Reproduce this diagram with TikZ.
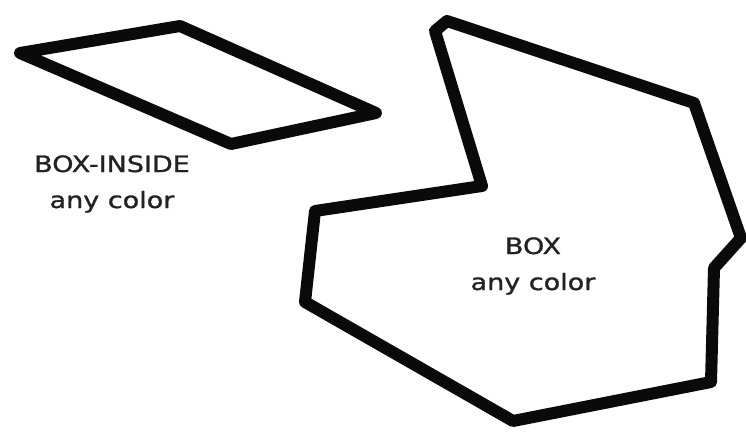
\documentclass[tikz,border=0pt]{standalone}
\usepackage{fontspec}
\newfontfamily\handfont[FakeStretch=1.2, FakeBold=1.2]{DejaVu Sans}
\usetikzlibrary{positioning}
\definecolor{inkblack}{HTML}{0A0A0A}
\definecolor{labelgray}{HTML}{222222}

\begin{document}
\begin{tikzpicture}[
    x=1pt, y=-1pt,
    every node/.style={font=\handfont\fontsize{22.5}{36}\selectfont, text=labelgray},
    outline/.style={draw=inkblack, line width=12pt, line join=round, line cap=round},
    lbl/.style={align=center, inner sep=0pt}
]
\useasboundingbox (0,0) rectangle (746,431);

% BOX-INSIDE
\draw[outline] (20,53) -- (180,26) -- (376,113) -- (231,144) -- cycle;
\node[lbl] (insidelbl) at (112,184) {BOX-INSIDE\\any color};

% BOX
\draw[outline] (447,21) -- (694,103) -- (741,238) -- (714,268) -- (711,382)
    -- (513,421) -- (305,302) -- (315,211) -- (482,186) -- (435,31) -- cycle;
\node[lbl] (boxlbl) at (533,266) {BOX\\any color};

\end{tikzpicture}
\end{document}
